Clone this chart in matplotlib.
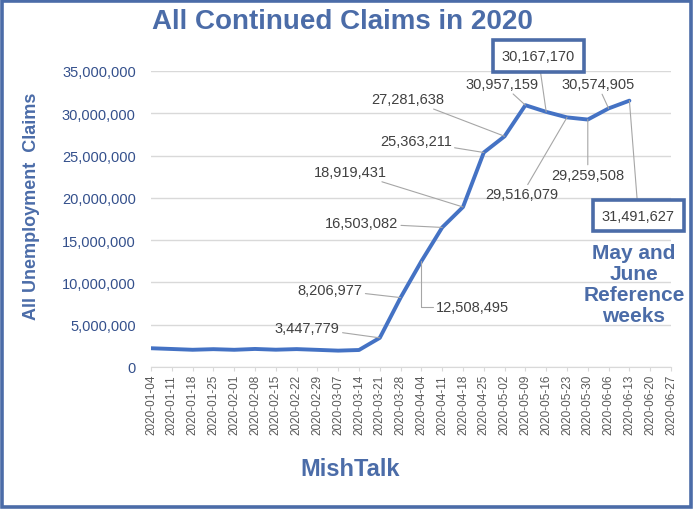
import matplotlib
matplotlib.use("Agg")
import matplotlib.pyplot as plt
from matplotlib.patches import Rectangle

plt.rcParams['font.family'] = ['Liberation Sans', 'DejaVu Sans']

weeks = ["2020-01-04", "2020-01-11", "2020-01-18", "2020-01-25", "2020-02-01",
         "2020-02-08", "2020-02-15", "2020-02-22", "2020-02-29", "2020-03-07",
         "2020-03-14", "2020-03-21", "2020-03-28", "2020-04-04", "2020-04-11",
         "2020-04-18", "2020-04-25", "2020-05-02", "2020-05-09", "2020-05-16",
         "2020-05-23", "2020-05-30", "2020-06-06", "2020-06-13", "2020-06-20",
         "2020-06-27"]
claims = [2219000, 2130000, 2037000, 2109000, 2034000, 2134000, 2045000,
          2116000, 2027000, 1935000, 2010000, 3447779, 8206977, 12508495,
          16503082, 18919431, 25363211, 27281638, 30957159, 30167170,
          29516079, 29259508, 30574905, 31491627]
y_ticks = [0, 5000000, 10000000, 15000000, 20000000, 25000000, 30000000, 35000000]

# label placement: week index -> (dx px, dy px, ha, boxed)
label_pos = {
    11: (-40, 10, 'right', False),
    12: (-38, 8, 'right', False),
    13: (14, -46, 'left', False),
    14: (-44, 4, 'right', False),
    15: (-76, 35, 'right', False),
    16: (-32, 11, 'right', False),
    17: (-60, 37, 'right', False),
    18: (-23, 21, 'center', False),
    19: (-8, 56, 'center', True),
    20: (-45, -77, 'center', False),
    21: (0, -55, 'center', False),
    22: (-11, 24, 'center', False),
    23: (9, -115, 'center', True),
}

blue = '#4B6CA8'
line_blue = '#4472C4'

fig = plt.figure(figsize=(6.95, 5.10), dpi=100)
ax = fig.add_axes([151 / 695, 1 - 368 / 510, 520 / 695, 296 / 510])

x = list(range(len(claims)))
ax.plot(x, claims, color=line_blue, lw=2.8, solid_capstyle='round', zorder=3)

ax.set_xlim(0, len(weeks) - 1)
ax.set_ylim(0, 35000000)
ax.set_xticks(range(len(weeks)))
ax.set_xticklabels(weeks, rotation=90, fontsize=8.5, color='#595959')
ax.set_yticks(y_ticks)
ax.set_yticklabels([f'{v:,}' for v in y_ticks], fontsize=10.5, color='#34508C')
ax.tick_params(axis='y', length=0, pad=11)
ax.tick_params(axis='x', length=3, color='#D9D9D9', pad=2)
ax.grid(axis='y', color='#D9D9D9', lw=1)
ax.set_axisbelow(True)
for s in ['top', 'right', 'left']:
    ax.spines[s].set_visible(False)
ax.spines['bottom'].set_color('#D9D9D9')

for i, (dx, dy, ha, boxed) in label_pos.items():
    bbox = None
    if boxed:
        bbox = dict(boxstyle='square,pad=0.6', fc='white', ec=blue, lw=2.6)
    cs = 'arc3'
    if i == 13:
        cs = 'angle,angleA=0,angleB=90,rad=0'
    ax.annotate(f'{claims[i]:,}', xy=(i, claims[i]), xytext=(dx, dy),
                textcoords='offset pixels', ha=ha, va='center',
                fontsize=10.5, color='#404040', bbox=bbox,
                arrowprops=dict(arrowstyle='-', color='#A6A6A6', lw=0.8,
                                shrinkA=0, shrinkB=0, connectionstyle=cs),
                zorder=4)

fig.text(342 / 695, 1 - 22 / 510, 'All Continued Claims in 2020', ha='center',
         va='center', fontsize=20, fontweight='bold', color=blue)
fig.text(32 / 695, 1 - 206 / 510, 'All Unemployment  Claims', rotation=90,
         ha='center', va='center', fontsize=13, fontweight='bold', color=blue)
fig.text(350 / 695, 1 - 470 / 510, 'MishTalk', ha='center', va='center',
         fontsize=17, fontweight='bold', color=blue)
fig.text(634 / 695, 1 - 285 / 510, 'May and\nJune\nReference\nweeks',
         ha='center', va='center', fontsize=15, fontweight='bold', color=blue,
         linespacing=1.15)

fig.patches.append(Rectangle((2 / 695, 2 / 510), 689 / 695, 506 / 510,
                             transform=fig.transFigure, fill=False,
                             ec=blue, lw=2.6))

fig.savefig('out.png', dpi=100)
